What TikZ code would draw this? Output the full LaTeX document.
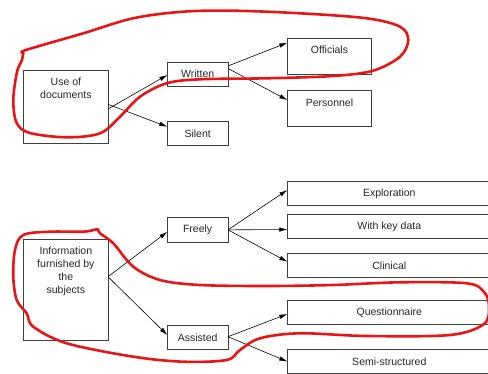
\documentclass[tikz,border=0pt]{standalone}
\usepackage{fontspec}
\setmainfont{Liberation Sans}
\usetikzlibrary{arrows.meta}
\definecolor{boxline}{gray}{0.25}
\definecolor{txt}{gray}{0.15}
\definecolor{marker}{RGB}{235,20,20}
\begin{document}
\begin{tikzpicture}[x=1pt,y=-1pt,
  font=\fontsize{10.5}{13}\selectfont,
  box/.style={draw=boxline,line width=0.8pt,inner sep=0pt,outer sep=0pt,
    minimum height=24pt,text=txt},
  smallbox/.style={box,minimum width=60.7pt},
  widebox/.style={box,minimum width=204pt,minimum height=23.6pt},
  caption/.style={anchor=north,inner sep=0pt,text=txt,align=center},
  arr/.style={draw=black,line width=0.6pt,-{Latex[length=8pt,width=4.5pt]}},
  loop/.style={draw=marker,line width=2.6pt,line cap=round,line join=round}]
\useasboundingbox (0,0) rectangle (488,374);
\clip (0,0) rectangle (488,374);

% first tree: use of documents
\node[box,minimum width=84.3pt,minimum height=72.6pt] (use) at (65.85,107) {};
\node[caption] (useT) at ([yshift=-7.5pt]use.north) {Use of\\documents};
\node[smallbox] (written) at (197.65,74) {Written};
\node[smallbox] (silent) at (197.65,133.7) {Silent};
\node[box,minimum width=84.4pt,minimum height=36pt] (officials) at (329.5,56) {};
\node[caption] (officialsT) at ([yshift=-7.5pt]officials.north) {Officials};
\node[box,minimum width=84.4pt,minimum height=36.4pt] (personnel) at (329.5,108.5) {};
\node[caption] (personnelT) at ([yshift=-8pt]personnel.north) {Personnel};

\draw[arr] ([yshift=-2pt]use.east) -- ([yshift=-1pt]written.west);
\draw[arr] ([yshift=2.7pt]use.east) -- ([yshift=7pt]silent.west);
\draw[arr] ([yshift=8pt]written.east) -- ([yshift=13.3pt]officials.west);
\draw[arr] ([yshift=5.5pt]written.east) -- ([yshift=8.5pt]personnel.west);

% second tree: information furnished by the subjects
\node[box,minimum width=84.3pt,minimum height=101pt] (info) at (65.85,289.5) {};
\node[caption] (infoT) at ([yshift=-7.5pt]info.north) {Information\\furnished by\\the\\subjects};
\node[smallbox,minimum height=24.3pt] (freely) at (197.65,229.85) {Freely};
\node[smallbox] (assisted) at (197.65,337.7) {Assisted};
\node[widebox] (explor) at (389.3,193.5) {Exploration};
\node[widebox] (keydata) at (389.3,226.5) {With key data};
\node[widebox] (clinical) at (389.3,265.3) {Clinical};
\node[widebox,minimum height=23.3pt] (quest) at (389.3,312.35) {Questionnaire};
\node[widebox] (semi) at (389.3,361.5) {Semi-structured};

\draw[arr] ([yshift=12.8pt]info.east) -- ([yshift=-2pt]freely.west);
\draw[arr] ([yshift=12.8pt]info.east) -- ([yshift=2.7pt]assisted.west);
\draw[arr] (freely.east) -- ([yshift=3.5pt]explor.west);
\draw[arr] (freely.east) -- ([yshift=-3pt]keydata.west);
\draw[arr] (freely.east) -- ([yshift=3.6pt]clinical.west);
\draw[arr] ([yshift=1pt]assisted.east) -- ([yshift=-1.7pt]quest.west);
\draw[arr] ([yshift=1pt]assisted.east) -- (semi.west);

% hand-drawn red loops
\draw[loop] plot[smooth cycle,tension=0.55] coordinates {
  (23.3,53.3) (22,60) (17,72) (13.3,100) (16.7,123) (30,133) (66.7,137.3)
  (100,133.3) (120,116.7) (140,96.7) (166.7,83.3) (200,79.3) (266.7,78.3)
  (333,76) (373,70.7) (400,56.7) (408.3,40) (400,26.7) (366.7,18.3)
  (300,13.3) (233,10.7) (183,11.7) (133,18.3) (83.3,33.3) (26,50)};
\draw[loop] plot[smooth cycle,tension=0.55] coordinates {
  (98.3,230) (100,233.3) (113.3,243.3) (133.3,266.7) (160,280) (200,285)
  (266.7,286) (333.3,285) (400,282.3) (466.7,283.3) (484,292) (489,306)
  (484,324) (450,335) (366.7,336) (300,333.3) (260,338.3) (240,350)
  (226.7,360) (183.3,361.7) (133.3,356.7) (66.7,343.3) (33.3,326.7)
  (26.7,313.3) (16.7,300) (13.3,276.7) (15,250) (23.3,235) (50,231.7)
  (83.3,231.7) (96.7,229.3)};
\end{tikzpicture}
\end{document}
